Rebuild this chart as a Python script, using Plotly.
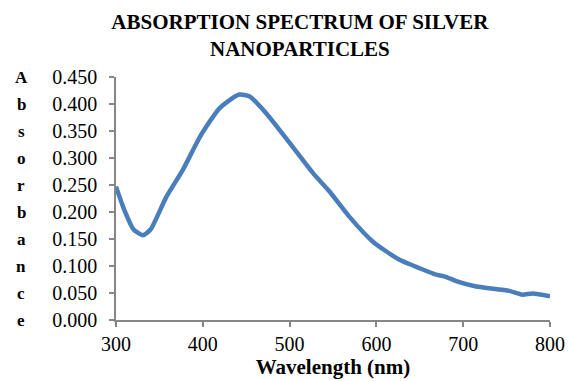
import plotly.graph_objects as go

wavelength = [300, 310, 320, 331, 340, 358, 377, 397, 418, 429, 442, 454, 473, 500, 527, 546, 569, 596, 626, 642, 669, 680, 692, 715, 753, 768, 780, 800]
absorbance = [0.247, 0.202, 0.168, 0.157, 0.168, 0.228, 0.278, 0.340, 0.390, 0.405, 0.4175, 0.414, 0.383, 0.328, 0.272, 0.238, 0.191, 0.145, 0.112, 0.101, 0.084, 0.080, 0.072, 0.062, 0.054, 0.047, 0.049, 0.044]

y_title = "Absorbance"
x_title = "Wavelength (nm)"
title = "ABSORPTION SPECTRUM OF SILVER<br>NANOPARTICLES"

serif = "Liberation Serif, 'Times New Roman', Times, serif"

fig = go.Figure()
fig.add_trace(go.Scatter(
    x=wavelength, y=absorbance, mode="lines",
    line=dict(color="#4A7EBB", width=4.5, shape="spline", smoothing=0.6),
    showlegend=False, hoverinfo="skip"))

axis_color = "#868686"
fig.update_layout(
    width=568, height=381,
    margin=dict(l=116, r=18, t=77, b=61),
    paper_bgcolor="white", plot_bgcolor="white",
    title=dict(text="<b>" + title + "</b>", x=0.528, xanchor="center",
               y=1 - 29.0 / 381, yanchor="middle", yref="container",
               font=dict(family=serif, size=21, color="black")),
    xaxis=dict(range=[300, 800], tickvals=[300, 400, 500, 600, 700, 800], automargin=False,
               showgrid=False, zeroline=False, showline=True, linecolor=axis_color, linewidth=1.5,
               ticks="outside", ticklen=5, tickcolor=axis_color, tickwidth=1.5,
               tickfont=dict(family=serif, size=20, color="black"),
               title=dict(text="<b>" + x_title + "</b>", font=dict(family=serif, size=21, color="black"), standoff=4)),
    yaxis=dict(range=[0, 0.45], dtick=0.05, tickformat=".3f", automargin=False,
               showgrid=False, zeroline=False, showline=True, linecolor=axis_color, linewidth=1.5,
               ticks="outside", ticklen=5, tickcolor=axis_color, tickwidth=1.5,
               tickfont=dict(family=serif, size=20, color="black"), ticklabelstandoff=8),
)

n = len(y_title)
for i, ch in enumerate(y_title):
    fig.add_annotation(text="<b>" + ch + "</b>", xref="paper", yref="paper",
                       x=-0.218, y=1.0 - i * (1.0 / (n - 1)) * (243.0 / 242.5),
                       xanchor="center", yanchor="middle", showarrow=False,
                       font=dict(family=serif, size=17, color="black"))

fig.write_html("out.html")
